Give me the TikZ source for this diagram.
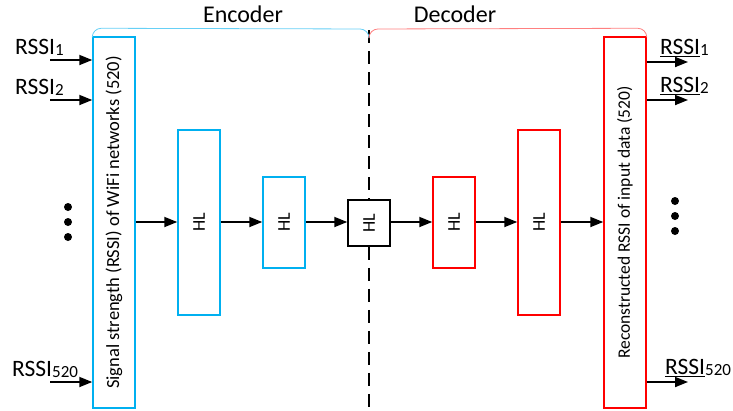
\documentclass[tikz,border=0pt]{standalone}
\usepackage{fontspec}
\setmainfont{Carlito}
\usetikzlibrary{calc}
\usetikzlibrary{arrows.meta}
\definecolor{encblue}{RGB}{0,176,240}
\definecolor{decred}{RGB}{255,0,0}
\tikzset{
	layer/.style={draw,line width=1.5pt,minimum width=42pt,inner sep=0pt},
	enc/.style={layer,encblue},
	dec/.style={layer,decred},
	flow/.style={line width=1.8pt,-{Triangle[length=13pt,width=10pt]}},
	hltext/.style={rotate=90,font=\fontsize{18}{18}\selectfont},
	bigtext/.style={rotate=90,font=\fontsize{18.5}{18.5}\selectfont},
	rssi/.style={font=\fontsize{23.5}{23.5}\selectfont,inner sep=0pt},
	dot/.style={fill=black,circle,inner sep=0pt,minimum size=8pt},
}
\newcommand{\rssisub}[1]{\raisebox{-1pt}{\fontsize{17}{17}\selectfont #1}}
\begin{document}
\begin{tikzpicture}[x=1pt,y=-1pt]
		\useasboundingbox (0,0) rectangle (733,410);
		% input and output layers
		\node[enc,minimum height=371pt] (in) at (114,222.5) {};
		\node[bigtext] at (in) {Signal strength (RSSI) of WiFi networks (520)};
		\node[dec,minimum height=371pt] (out) at (625,222.5) {};
		\node[bigtext,font=\fontsize{17.5}{17.5}\selectfont] at ($ (out) + (0,0) $) {Reconstructed RSSI of input data (520)};
		% hidden layers
		\node[enc,minimum height=185pt] (e1) at (199,222.5) {};
		\node[enc,minimum height=91pt] (e2) at (284,222.5) {};
		\node[layer,black,minimum height=46pt] (mid) at (369,223) {};
		\node[dec,minimum height=91pt] (d1) at (454,222.5) {};
		\node[dec,minimum height=185pt] (d2) at (539,222.5) {};
		\foreach \n in {e1,e2,mid,d1,d2}
			\node[hltext] at (\n) {HL};
		% main flow
		\draw[flow] (in.east |- 0,222) -- (e1.west |- 0,222);
		\draw[flow] (e1.east |- 0,222) -- (e2.west |- 0,222);
		\draw[flow] (e2.east |- 0,222) -- (mid.west |- 0,222);
		\draw[flow] (mid.east |- 0,222) -- (d1.west |- 0,222);
		\draw[flow] (d1.east |- 0,222) -- (d2.west |- 0,222);
		\draw[flow] (d2.east |- 0,222) -- (out.west |- 0,222);
		% split line
		\coordinate (top) at (369,30);
		\coordinate (bot) at (369,410);
		\draw[line width=2pt,dash pattern=on 13pt off 8pt] (top) -- (mid.north);
		\draw[line width=2pt,dash pattern=on 13pt off 8pt] (mid.south) -- (bot);
		% encoder / decoder brackets
		\draw[encblue!60,line width=0.8pt,rounded corners=9pt] (in.north west) -- ++(0,-8) -- ($ (top) + (0,-1) $) -- ++(0,7);
		\draw[decred!50,line width=0.8pt,rounded corners=9pt] ($ (top) + (0,6) $) -- ++(0,-7) -- ($ (out.north east) + (0,-8) $) -- (out.north east);
		\node[font=\fontsize{24}{24}\selectfont] (enclabel) at (243,14) {Encoder};
		\node[font=\fontsize{24}{24}\selectfont] (declabel) at (455,14) {Decoder};
		% inputs
		\foreach \y/\s in {60/1,100/2,382/520} {
			\coordinate (src\s) at (50,\y);
			\draw[flow] (src\s) -- (in.west |- src\s);
		}
		\node[rssi,anchor=south west] (x1) at (15,56) {RSSI\rssisub{1}};
		\node[rssi,anchor=south west] (x2) at (15,96) {RSSI\rssisub{2}};
		\node[rssi,anchor=south west] (x520) at (12,378) {RSSI\rssisub{520}};
		% outputs
		\foreach \y/\s in {62/1,100/2,382/520} {
			\coordinate (dst\s) at (688,\y);
			\draw[flow] (out.east |- dst\s) -- (dst\s);
		}
		\node[rssi,anchor=south west] (y1) at (660,57) {\underline{RSSI}\rssisub{1}};
		\node[rssi,anchor=south west] (y2) at (660,95) {\underline{RSSI}\rssisub{2}};
		\node[rssi,anchor=south west] (y520) at (665,377) {\underline{RSSI}\rssisub{520}};
		% dots
		\foreach \y in {207,222,237}
			\node[dot] at (68,\y) {};
		\foreach \y in {201,216,231}
			\node[dot] at (675,\y) {};
	\end{tikzpicture}
\end{document}
